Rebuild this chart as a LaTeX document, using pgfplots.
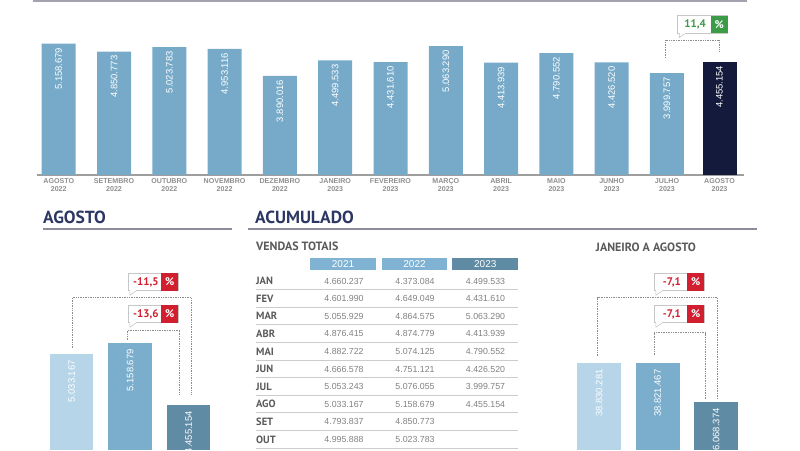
\documentclass[border=0pt]{standalone}
\usepackage{fontspec}
\setmainfont{Liberation Sans}
\newfontfamily\pt{PT Sans}
\usepackage{pgfplots}
\pgfplotsset{compat=1.18}

\definecolor{topbar}{HTML}{77AAC9}
\definecolor{navy}{HTML}{131A3C}
\definecolor{lightb}{HTML}{B6D5E8}
\definecolor{midb}{HTML}{7AAECC}
\definecolor{darkb}{HTML}{5F8BA4}
\definecolor{titlec}{HTML}{2C3763}
\definecolor{rulec}{HTML}{8C8C9C}
\definecolor{labgray}{HTML}{8E8E8E}
\definecolor{txtgray}{HTML}{5A5A5A}
\definecolor{valgray}{HTML}{808080}
\definecolor{hdr}{HTML}{80B3D3}
\definecolor{redc}{HTML}{D11F2F}
\definecolor{greenc}{HTML}{3C9B47}

% callout box: x, y (top left, px), number, colour
\newcommand\callout[4]{%
  \filldraw[fill=white, draw=black!22, line width=0.6pt] (#1,#2) rectangle ++(50,17.4);
  \filldraw[fill=white, draw=black!22, line width=0.6pt] (#1+1.5,#2+17.4) -- (#1+1.5,#2+22) -- (#1+8,#2+17.4);
  \fill[white] (#1+1.8,#2+17) rectangle (#1+7.5,#2+17.8);
  \fill[#4] (#1+33,#2) rectangle (#1+50,#2+17.4);
  \node[text=#4, font=\pt\bfseries\fontsize{11}{12}\selectfont] at (#1+17.5,#2+8.7) {#3};
  \node[text=white, font=\pt\bfseries\fontsize{11}{12}\selectfont] at (#1+41.5,#2+8.7) {\%};
}

\pgfplotsset{
  barlabels/.style={
    ybar, bar shift=0pt,
    nodes near coords, point meta=explicit symbolic,
    nodes near coords align={anchor=east},
    every node near coord/.append style={rotate=90, text=white,
      font=\fontsize{9.4}{10}\selectfont, inner xsep=#1},
  },
}

\begin{document}
\begin{tikzpicture}
\path[use as bounding box] (0,0) rectangle (800pt,450pt);

% ---------- monthly bars ----------
\begin{axis}[
  at={(36.6pt,275pt)}, anchor=south west,
  scale only axis, width=707.8pt, height=160pt,
  xmin=-0.4, xmax=12.4, ymin=0, ymax=6287000,
  axis y line=none, axis x line=bottom,
  axis line style={-, draw=black!38, line width=1.1pt},
  xtick={0,1,2,3,4,5,6,7,8,9,10,11,11.95},
  xticklabels={AGOSTO\\2022, SETEMBRO\\2022, OUTUBRO\\2022, NOVEMBRO\\2022,
    DEZEMBRO\\2022, JANEIRO\\2023, FEVEREIRO\\2023, MARÇO\\2023, ABRIL\\2023,
    MAIO\\2023, JUNHO\\2023, JULHO\\2023, AGOSTO\\2023},
  xticklabel style={align=center, text=labgray, inner sep=3pt,
    font=\bfseries\fontsize{7.1}{8.6}\selectfont},
  major tick length=0pt,
  bar width=34pt, barlabels=4pt,
]
\addplot[fill=topbar, draw=none, bar shift=0pt] coordinates {
  (0,5158679) [5.158.679]
  (1,4850773) [4.850.773]
  (2,5023783) [5.023.783]
  (3,4953116) [4.953.116]
  (4,3890016) [3.890.016]
  (5,4499533) [4.499.533]
  (6,4431610) [4.431.610]
  (7,5063290) [5.063.290]
  (8,4413939) [4.413.939]
  (9,4790552) [4.790.552]
  (10,4426520) [4.426.520]
  (11,3999757) [3.999.757]
};
\addplot[fill=navy, draw=none, bar shift=0pt] coordinates {
  (11.95,4455154) [4.455.154]
};
\end{axis}

% ---------- AGOSTO ----------
\begin{axis}[
  at={(48.1pt,0pt)}, anchor=south west,
  scale only axis, width=164pt, height=150pt,
  xmin=-0.4, xmax=2.4, ymin=3945000, ymax=5650000,
  hide axis, bar width=43.5pt, barlabels=6pt,
]
\addplot[fill=lightb, draw=none, bar shift=0pt] coordinates {(0,5033167) [5.033.167]};
\addplot[fill=midb, draw=none, bar shift=0pt] coordinates {(1,5158679) [5.158.679]};
\addplot[fill=darkb, draw=none, bar shift=0pt] coordinates {(2,4455154) [4.455.154]};
\end{axis}

% ---------- JANEIRO A AGOSTO ----------
\begin{axis}[
  at={(575.6pt,0pt)}, anchor=south west,
  scale only axis, width=164pt, height=150pt,
  xmin=-0.4, xmax=2.4, ymin=32690000, ymax=43310000,
  hide axis, bar width=44pt, barlabels=6pt,
]
\addplot[fill=lightb, draw=none, bar shift=0pt] coordinates {(0,38830281) [38.830.281]};
\addplot[fill=midb, draw=none, bar shift=0pt] coordinates {(1,38821467) [38.821.467]};
\addplot[fill=darkb, draw=none, bar shift=0pt] coordinates {(2,36068374) [36.068.374]};
\end{axis}

% ---------- annotations, in pixel coordinates ----------
\begin{scope}[x=1pt, y=-1pt, shift={(0pt,450pt)}]
  \fill[rulec!80] (33,0) rectangle (747,2);

  % titles
  \node[anchor=west, inner sep=0pt, text=titlec, font=\pt\bfseries\fontsize{17.5}{19}\selectfont] at (43,217.5) {AGOSTO};
  \node[anchor=west, inner sep=0pt, text=titlec, font=\pt\bfseries\fontsize{17.5}{19}\selectfont] at (255,217.5) {ACUMULADO};
  \draw[rulec, line width=1.6pt] (43,229.3) -- (232,229.3);
  \draw[rulec, line width=1.6pt] (248,229.3) -- (757,229.3);
  \node[anchor=west, inner sep=0pt, text=txtgray, font=\pt\bfseries\fontsize{12}{13}\selectfont] at (256,246.5) {VENDAS TOTAIS};
  \node[inner sep=0pt, text=txtgray, font=\pt\bfseries\fontsize{12}{13}\selectfont] at (646,247.5) {JANEIRO A AGOSTO};

  % table header
  \fill[hdr] (310,257.7) rectangle (376,270);
  \fill[hdr] (381.7,257.7) rectangle (447.3,270);
  \fill[darkb] (452.3,257.7) rectangle (518.3,270);
  \node[text=white, font=\fontsize{10}{11}\selectfont] at (343,263.9) {2021};
  \node[text=white, font=\fontsize{10}{11}\selectfont] at (414.5,263.9) {2022};
  \node[text=white, font=\fontsize{10}{11}\selectfont] at (485.3,263.9) {2023};

  % table rows
  \foreach \m/\a/\b/\c [count=\i from 0] in {
      JAN/4.660.237/4.373.084/4.499.533,
      FEV/4.601.990/4.649.049/4.431.610,
      MAR/5.055.929/4.864.575/5.063.290,
      ABR/4.876.415/4.874.779/4.413.939,
      MAI/4.882.722/5.074.125/4.790.552,
      JUN/4.666.578/4.751.121/4.426.520,
      JUL/5.053.243/5.076.055/3.999.757,
      AGO/5.033.167/5.158.679/4.455.154,
      SET/4.793.837/4.850.773/,
      OUT/4.995.888/5.023.783/} {
    \node[anchor=west, inner sep=0pt, text=txtgray, font=\pt\bfseries\fontsize{10.5}{12}\selectfont] at (256,{281+17.6*\i}) {\m};
    \node[text=valgray, font=\fontsize{8.8}{10}\selectfont] at (344,{281+17.6*\i}) {\a};
    \node[text=valgray, font=\fontsize{8.8}{10}\selectfont] at (415,{281+17.6*\i}) {\b};
    \node[text=valgray, font=\fontsize{8.8}{10}\selectfont] at (485.5,{281+17.6*\i}) {\c};
    \draw[black!20, line width=0.8pt] (256,{289.6+17.6*\i}) -- (518,{289.6+17.6*\i});
  }

  % comparison brackets
  \tikzset{br/.style={draw=black!45, line width=0.8pt, dash pattern=on 0.8pt off 0.9pt}}
  \draw[br] (665,58) -- (665,40) -- (719.7,40) -- (719.7,51);
  \draw[br] (72,348) -- (72,297.7) -- (191,297.7) -- (191,395);
  \draw[br] (127.7,340) -- (127.7,330) -- (179.7,330) -- (179.7,395);
  \draw[br] (597.7,356) -- (597.7,297.7) -- (717.7,297.7) -- (717.7,399.3);
  \draw[br] (654.3,355) -- (654.3,332.7) -- (705.7,332.7) -- (705.7,399.3);

  \callout{677.7}{15.7}{11,4}{greenc}
  \callout{128.3}{273.3}{-11,5}{redc}
  \callout{128.3}{305.3}{-13,6}{redc}
  \callout{654.3}{273.3}{-7,1}{redc}
  \callout{654.3}{305.3}{-7,1}{redc}
\end{scope}
\end{tikzpicture}
\end{document}
